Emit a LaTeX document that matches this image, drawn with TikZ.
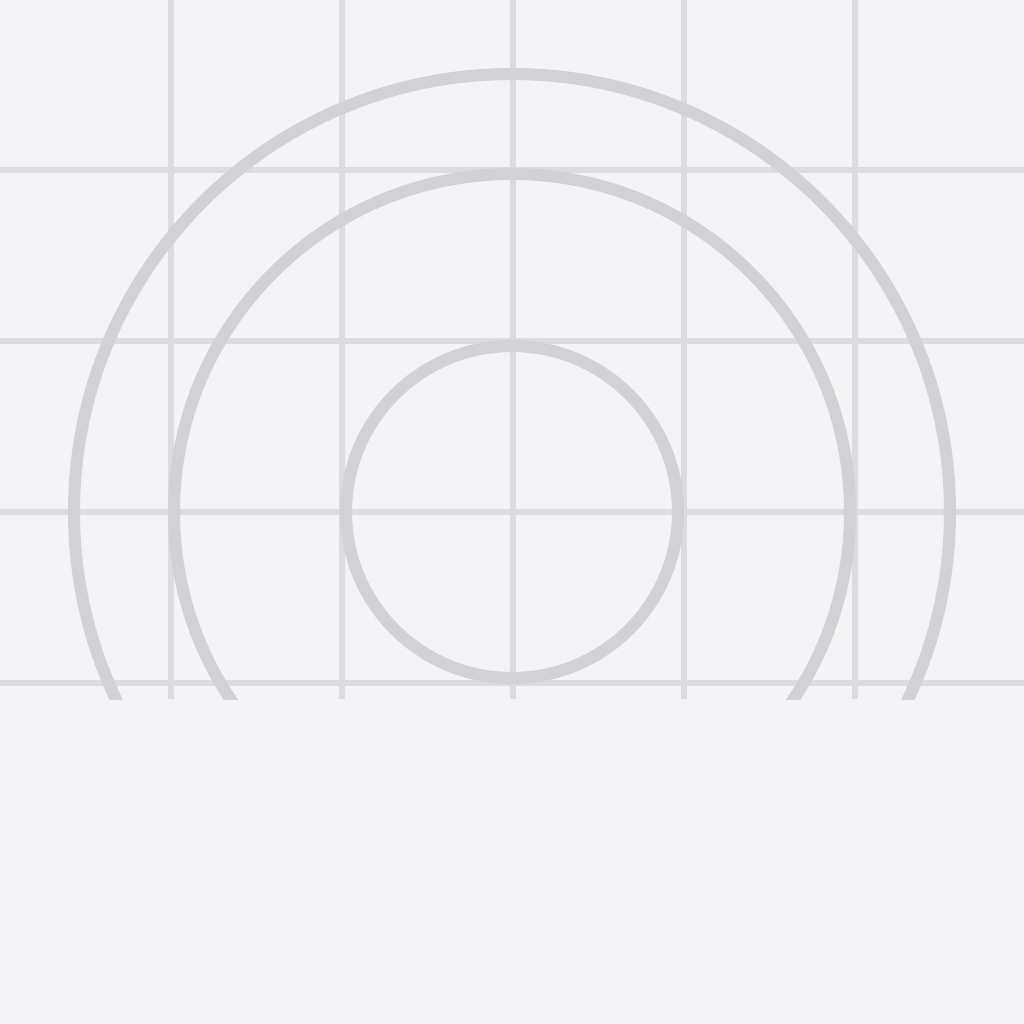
\documentclass[tikz,border=0pt]{standalone}
\usepackage{xcolor}
\usepackage{tikz}
\definecolor{bgPage}{HTML}{f4f4f6}
\definecolor{gridLn}{HTML}{dcdce0}
\definecolor{ringLn}{HTML}{d1d1d7}

\begin{document}
\begin{tikzpicture}[x=0.5pt, y=-0.5pt, gridline/.style={draw=gridLn, line width=3pt}, ring/.style={draw=ringLn, line width=6pt}]
\fill[bgPage] (0,0) rectangle (1024,1024);
\useasboundingbox (0,0) rectangle (1024,1024);
\begin{scope}
\clip (0,0) rectangle (1024,699);
\foreach \gx in {171,342,513,684,855} {\draw[gridline] (\gx,0) -- (\gx,699);}
\foreach \gy in {170,341,512,683} {\draw[gridline] (0,\gy) -- (1024,\gy);}
\coordinate (ctr) at (512,512);
\draw[ring] (ctr) circle[radius=166];
\draw[ring] (ctr) circle[radius=338];
\draw[ring] (ctr) circle[radius=438];
\end{scope}
\end{tikzpicture}
\end{document}
